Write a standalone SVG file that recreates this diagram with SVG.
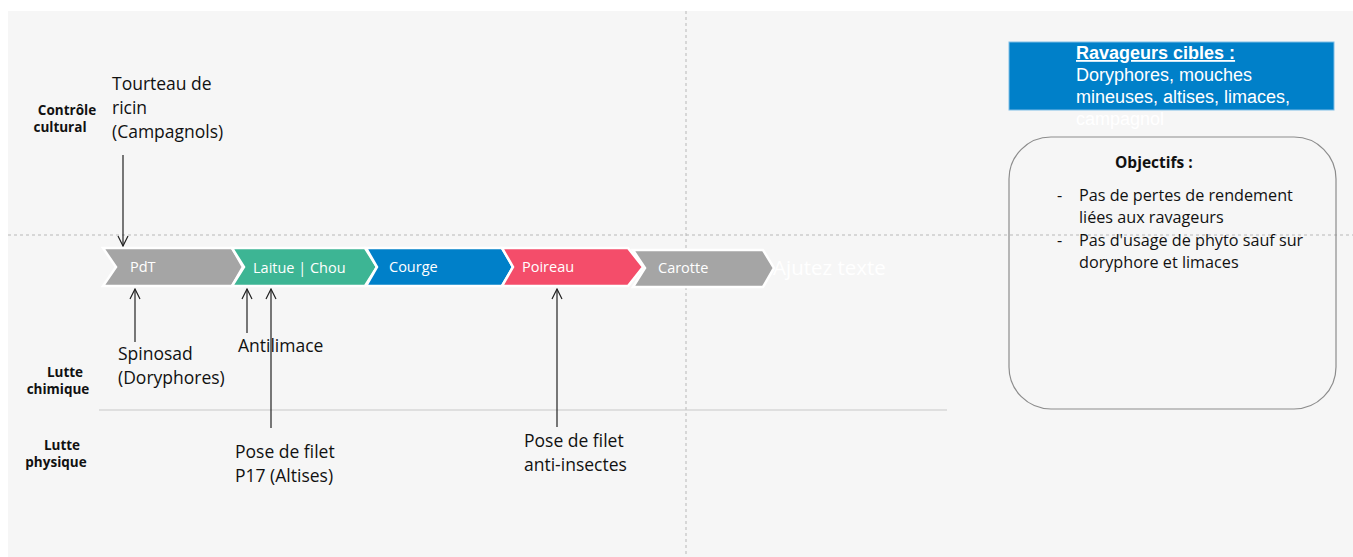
<svg xmlns="http://www.w3.org/2000/svg" width="1353" height="557" viewBox="0 0 1353 557">
<style>
.bg{fill:#f6f6f6}
.guide{stroke:#b8b8b8;stroke-width:1;stroke-dasharray:3,3;fill:none}
.sep{stroke:#c8c8c8;stroke-width:1;fill:none}
.chev{stroke:#ffffff;stroke-width:2.5;stroke-linejoin:miter}
.clab{font-family:"Open Sans","Noto Sans",sans-serif;font-size:14.5px;fill:#ffffff}
.lbl{font-family:"Open Sans","Noto Sans",sans-serif;font-size:13.5px;font-weight:bold;fill:#111111;text-anchor:middle}
.ann{font-family:"Open Sans","Noto Sans",sans-serif;font-size:17.5px;fill:#111111}
.obj{font-family:"Open Sans","Noto Sans",sans-serif;font-size:16.2px;fill:#111111}
.rav{font-family:"Liberation Sans",Arial,sans-serif;font-size:18px;fill:#ffffff}
.conn{stroke:#222222;stroke-width:1.2;fill:none}
</style>
<defs>
<marker id="arr" viewBox="0 0 12 12" refX="11" refY="6" markerWidth="12" markerHeight="12" markerUnits="userSpaceOnUse" orient="auto">
<path d="M1,1 L11,6 L1,11" fill="none" stroke="#222222" stroke-width="1.2"/>
</marker>
</defs>
<rect x="8" y="11" width="1345" height="546" class="bg"/>
<g id="guides">
<line x1="8" y1="235" x2="1353" y2="235" class="guide"/>
<line x1="686" y1="11" x2="686" y2="557" class="guide"/>
<line x1="99" y1="410" x2="947" y2="410" class="sep"/>
</g>
<g id="row-labels">
<text class="lbl" x="67" y="115">Contrôle</text>
<text class="lbl" x="60" y="132">cultural</text>
<text class="lbl" x="65" y="377">Lutte</text>
<text class="lbl" x="58" y="394">chimique</text>
<text class="lbl" x="62" y="450">Lutte</text>
<text class="lbl" x="56" y="467">physique</text>
</g>
<g id="node-pdt">
<polygon class="chev" fill="#a5a5a5" points="103,248 232,248 243,267 232,286 103,286 116,267"/>
<text class="clab" x="130" y="272">PdT</text>
</g>
<g id="node-laitue">
<polygon class="chev" fill="#3db594" points="232,248 365,248 377,267 365,286 232,286 244,267"/>
<text class="clab" x="253" y="273">Laitue | Chou</text>
</g>
<g id="node-courge">
<polygon class="chev" fill="#0080c9" points="366,248 502,248 513,267 502,286 366,286 377,267"/>
<text class="clab" x="389" y="272">Courge</text>
</g>
<g id="node-poireau">
<polygon class="chev" fill="#f44d6a" points="502,248 628,248 643,267 628,286 502,286 513,267"/>
<text class="clab" x="522" y="272">Poireau</text>
</g>
<g id="node-carotte">
<polygon class="chev" fill="#a5a5a5" points="633,250 763,250 774,268 763,287 633,287 645,268"/>
<text class="clab" x="658" y="273">Carotte</text>
</g>
<g id="node-ajoutez">
<text x="773" y="275" font-family="'Open Sans','Noto Sans',sans-serif" font-size="20.5px" fill="#ffffff">Ajutez texte</text>
</g>
<g id="node-tourteau">
<text class="ann" x="112" y="90">Tourteau de</text>
<text class="ann" x="112" y="114">ricin</text>
<text class="ann" x="112" y="138">(Campagnols)</text>
</g>
<g id="node-spinosad">
<text class="ann" x="118" y="360">Spinosad</text>
<text class="ann" x="118" y="384">(Doryphores)</text>
</g>
<g id="node-antilimace">
<text class="ann" x="238" y="352">Antilimace</text>
</g>
<g id="node-filet-p17">
<text class="ann" x="235" y="458">Pose de filet</text>
<text class="ann" x="235" y="482">P17 (Altises)</text>
</g>
<g id="node-filet-anti">
<text class="ann" x="524" y="447">Pose de filet</text>
<text class="ann" x="524" y="471">anti-insectes</text>
</g>
<g id="node-ravageurs">
<rect x="1009" y="42" width="325" height="68" fill="#0080c9" stroke="#7fbde6" stroke-width="1"/>
<text class="rav" x="1076" y="59" font-weight="bold" text-decoration="underline">Ravageurs cibles :</text>
<text class="rav" x="1076" y="81">Doryphores, mouches</text>
<text class="rav" x="1076" y="103">mineuses, altises, limaces,</text>
<text class="rav" x="1076" y="125">campagnol</text>
</g>
<g id="node-objectifs">
<rect x="1009" y="137" width="327" height="272" rx="42" ry="42" fill="none" stroke="#8c8c8c" stroke-width="1.2"/>
<text x="1115" y="168" font-family="'Open Sans','Noto Sans',sans-serif" font-size="15.5px" font-weight="bold" fill="#111111">Objectifs :</text>
<text class="obj" x="1057" y="201">-</text>
<text class="obj" x="1079" y="201">Pas de pertes de rendement</text>
<text class="obj" x="1079" y="223">liées aux ravageurs</text>
<text class="obj" x="1057" y="246">-</text>
<text class="obj" x="1079" y="246">Pas d'usage de phyto sauf sur</text>
<text class="obj" x="1079" y="268">doryphore et limaces</text>
</g>
<g id="connectors">
<line class="conn" x1="123" y1="155" x2="123" y2="246" marker-end="url(#arr)"/>
<line class="conn" x1="135" y1="342" x2="135" y2="289" marker-end="url(#arr)"/>
<line class="conn" x1="247" y1="333" x2="247" y2="289" marker-end="url(#arr)"/>
<line class="conn" x1="271" y1="428" x2="271" y2="289" marker-end="url(#arr)"/>
<line class="conn" x1="557" y1="427" x2="557" y2="289" marker-end="url(#arr)"/>
</g>
</svg>
